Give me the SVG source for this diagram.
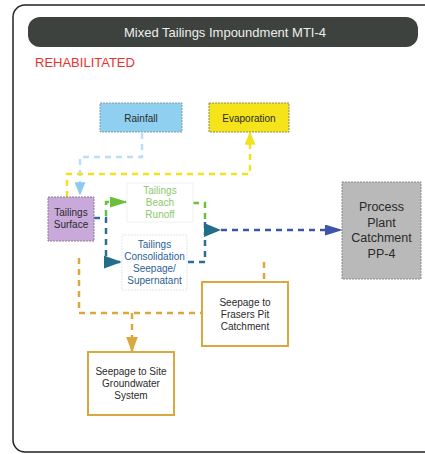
<svg xmlns="http://www.w3.org/2000/svg" width="425" height="454" viewBox="0 0 425 454">
<style>
text{font-family:"Liberation Sans",Arial,sans-serif;font-size:10px;fill:#2a2a2a;text-anchor:middle}
.dash{fill:none;stroke-width:2.5;stroke-dasharray:6 5}
.gold{stroke:#d9a83e}
.gbox{fill:#fff;stroke:#d9a83e;stroke-width:2}
</style>
<defs>
<marker id="aBlue" viewBox="0 0 10 10" refX="9" refY="5" preserveAspectRatio="none" markerUnits="userSpaceOnUse" markerWidth="13" markerHeight="11" orient="auto"><path d="M0,0 L10,5 L0,10 z" fill="#8ec9f0"/></marker>
<marker id="aYel" viewBox="0 0 10 10" refX="9" refY="5" preserveAspectRatio="none" markerUnits="userSpaceOnUse" markerWidth="13" markerHeight="11" orient="auto"><path d="M0,0 L10,5 L0,10 z" fill="#f2e21c"/></marker>
<marker id="aGrn" viewBox="0 0 10 10" refX="9" refY="5" preserveAspectRatio="none" markerUnits="userSpaceOnUse" markerWidth="18" markerHeight="11" orient="auto"><path d="M0,0 L10,5 L0,10 z" fill="#6cbf3c"/></marker>
<marker id="aTeal" viewBox="0 0 10 10" refX="9" refY="5" preserveAspectRatio="none" markerUnits="userSpaceOnUse" markerWidth="18" markerHeight="13" orient="auto"><path d="M0,0 L10,5 L0,10 z" fill="#236c8a"/></marker>
<marker id="aNavy" viewBox="0 0 10 10" refX="9" refY="5" preserveAspectRatio="none" markerUnits="userSpaceOnUse" markerWidth="18" markerHeight="11" orient="auto"><path d="M0,0 L10,5 L0,10 z" fill="#3d55a8"/></marker>
<marker id="aGold" viewBox="0 0 10 10" refX="9" refY="5" preserveAspectRatio="none" markerUnits="userSpaceOnUse" markerWidth="16" markerHeight="12" orient="auto"><path d="M0,0 L10,5 L0,10 z" fill="#d9a83e"/></marker>
</defs>
<rect width="425" height="454" fill="#fff"/>
<rect x="13" y="5" width="430" height="447" rx="12" fill="none" stroke="#222" stroke-width="1.5"/>
<g id="title">
<rect x="28" y="17" width="390" height="30" rx="12" fill="#3e423f"/>
<text x="225" y="37" style="font-size:13px;fill:#eeeeee">Mixed Tailings Impoundment MTI-4</text>
</g>
<text x="35" y="67" style="font-size:13px;fill:#e8322d;text-anchor:start">REHABILITATED</text>
<g id="connectors">
<path class="dash" d="M142,133 V157 H80 V194" stroke="#b9def6" marker-end="url(#aBlue)"/>
<path class="dash" d="M67,197 V174 H250 V133" stroke="#f2e21c" marker-end="url(#aYel)"/>
<path class="dash" d="M106,216 V202 H126" stroke="#6cbf3c" marker-end="url(#aGrn)"/>
<path class="dash" d="M193,203 H205 V222" stroke="#6cbf3c"/>
<path class="dash" d="M94,218 H106 V262 H120" stroke="#2c6f92" marker-end="url(#aTeal)"/>
<path class="dash" d="M188,262 H205 V232" stroke="#2c6f92"/>
<path class="dash" d="M205,222 V232" stroke="#2c6f92"/>
<path d="M204,223 L221,230 L204,237 z" fill="#236c8a"/>
<path class="dash" d="M221,230 H341" stroke="#3d55a8" marker-end="url(#aNavy)"/>
<path class="dash gold" d="M79,258 V313 H202"/>
<path class="dash gold" d="M132,313 V351" marker-end="url(#aGold)"/>
<path class="dash gold" d="M264,262 V281"/>
</g>
<g id="rainfall">
<rect x="100" y="103" width="82" height="29" fill="#8fd0f0" stroke="#8a9aa0" stroke-dasharray="2 1"/>
<text x="141" y="122">Rainfall</text>
</g>
<g id="evaporation">
<rect x="209" y="103" width="80" height="29" fill="#f4e419" stroke="#8a8a60" stroke-dasharray="2 1"/>
<text x="249" y="122">Evaporation</text>
</g>
<g id="tailings-surface">
<rect x="48" y="197" width="46" height="44" fill="#c9a9da" stroke="#8a7a96" stroke-dasharray="2 1"/>
<text x="71" y="216">Tailings</text>
<text x="71" y="228">Surface</text>
</g>
<g id="beach-runoff">
<rect x="127" y="183" width="66" height="39" fill="#fff" stroke="#eef3ea"/>
<text x="160" y="194" style="fill:#8cc86e">Tailings</text>
<text x="160" y="206" style="fill:#8cc86e">Beach</text>
<text x="160" y="218" style="fill:#8cc86e">Runoff</text>
</g>
<g id="consolidation">
<rect x="122" y="235" width="65" height="55" fill="#fff" stroke="#dbe8f3" stroke-dasharray="2 1"/>
<text x="154.5" y="248" style="fill:#2e5f96">Tailings</text>
<text x="154.5" y="260" style="fill:#2e5f96">Consolidation</text>
<text x="154.5" y="272" style="fill:#2e5f96">Seepage/</text>
<text x="154.5" y="284" style="fill:#2e5f96">Supernatant</text>
</g>
<g id="process-plant">
<rect x="342" y="182" width="79" height="97" fill="#b9b9b9" stroke="#8a8a8a" stroke-dasharray="2 1"/>
<text x="381.5" y="211" style="font-size:12.5px">Process</text>
<text x="381.5" y="227" style="font-size:12.5px">Plant</text>
<text x="381.5" y="242" style="font-size:12.5px">Catchment</text>
<text x="381.5" y="258" style="font-size:12.5px">PP-4</text>
</g>
<g id="frasers">
<rect x="202" y="282" width="86" height="64" class="gbox"/>
<text x="245" y="306">Seepage to</text>
<text x="245" y="318">Frasers Pit</text>
<text x="245" y="330">Catchment</text>
</g>
<g id="groundwater">
<rect x="88" y="352" width="86" height="63" class="gbox"/>
<text x="131" y="375">Seepage to Site</text>
<text x="131" y="387">Groundwater</text>
<text x="131" y="399">System</text>
</g>
</svg>
